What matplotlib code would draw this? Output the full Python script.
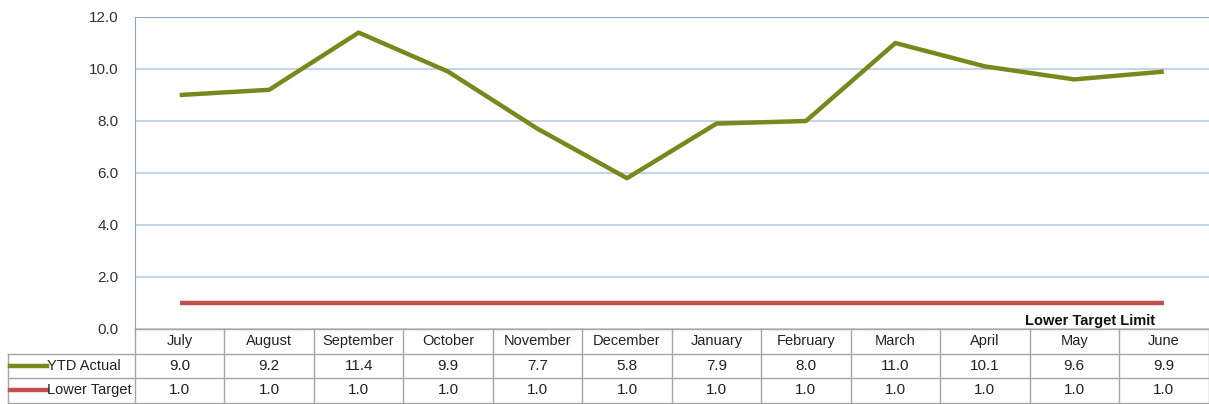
import matplotlib
matplotlib.use("Agg")
import matplotlib.pyplot as plt
from matplotlib.lines import Line2D

months = ["July", "August", "September", "October", "November", "December",
          "January", "February", "March", "April", "May", "June"]
ytd_actual = [9.0, 9.2, 11.4, 9.9, 7.7, 5.8, 7.9, 8.0, 11.0, 10.1, 9.6, 9.9]
lower_target = [1.0] * 12
series_names = ["YTD Actual", "Lower Target"]

GREEN = "#77891C"
RED = "#C0504D"
GRID = "#B9CDE5"
BORDER = "#A6A6A6"

plt.rcParams['font.family'] = ['Liberation Sans Narrow', 'Liberation Sans', 'DejaVu Sans']

fig = plt.figure(figsize=(12.09, 4.04), dpi=100)
ax = fig.add_axes([135 / 1209, 1 - 329 / 404, 1 - 135 / 1209 - 0.5 / 1209, (329 - 17) / 404])

x = list(range(len(months)))
ax.plot(x, ytd_actual, color=GREEN, linewidth=3.2, solid_capstyle='butt', zorder=3)
ax.plot(x, lower_target, color=RED, linewidth=3.2, solid_capstyle='butt', zorder=3)

ax.set_xlim(-0.5, len(months) - 0.5)
ax.set_ylim(0, 12)
ax.set_yticks([0, 2, 4, 6, 8, 10, 12])
ax.set_yticklabels([f"{v:.1f}" for v in [0, 2, 4, 6, 8, 10, 12]], fontsize=11, color="#333333")
ax.tick_params(axis='y', length=0, pad=12)
ax.set_xticks([])
ax.yaxis.grid(True, color=GRID, linewidth=1.2)
ax.set_axisbelow(True)
for s in ['top', 'right', 'bottom']:
    ax.spines[s].set_visible(False)
ax.spines['left'].set_color("#8EA4C2")
ax.axhline(12, color="#8EA9D0", linewidth=1.5, zorder=2)

ax.text(10.17, 0.05, "Lower Target Limit", fontsize=10.5, fontweight='bold',
        ha='center', va='bottom', color="#111111")

# data table under the plot
row_h = 24.5 / 312 * 12  # in data units
rows = [None, ytd_actual, lower_target]
for r in range(3):
    ytop = -r * row_h
    ymid = ytop - row_h / 2
    if r == 0:
        for i, m in enumerate(months):
            ax.text(i, ymid, m, ha='center', va='center', fontsize=10.5, color="#222222", clip_on=False)
    else:
        for i, v in enumerate(rows[r]):
            ax.text(i, ymid, f"{v:.1f}", ha='center', va='center', fontsize=11, color="#222222", clip_on=False)

# table lines
x0 = -0.5
x_left = x0 - (135 - 8) / (1074 / 12)
x_right = len(months) - 0.5
for r in range(4):
    y = -r * row_h
    xs = x0 if r == 0 else x_left
    ax.add_line(Line2D([xs, x_right], [y, y], color=BORDER, linewidth=1, clip_on=False))
for i in range(len(months) + 1):
    ax.add_line(Line2D([x0 + i, x0 + i], [0, -3 * row_h], color=BORDER, linewidth=1, clip_on=False))
ax.add_line(Line2D([x_left, x_left], [-row_h, -3 * row_h], color=BORDER, linewidth=1, clip_on=False))

# legend keys in the label column
key_w = 0.42
for r, (name, c) in enumerate(zip(series_names, [GREEN, RED]), start=1):
    ymid = -r * row_h - row_h / 2
    kx = x_left + 0.02
    ax.add_line(Line2D([kx, kx + key_w], [ymid, ymid], color=c, linewidth=3.2, clip_on=False))
    ax.text(kx + key_w, ymid, name, ha='left', va='center', fontsize=10.5, color="#222222", clip_on=False)

fig.savefig("out.png", dpi=100)
